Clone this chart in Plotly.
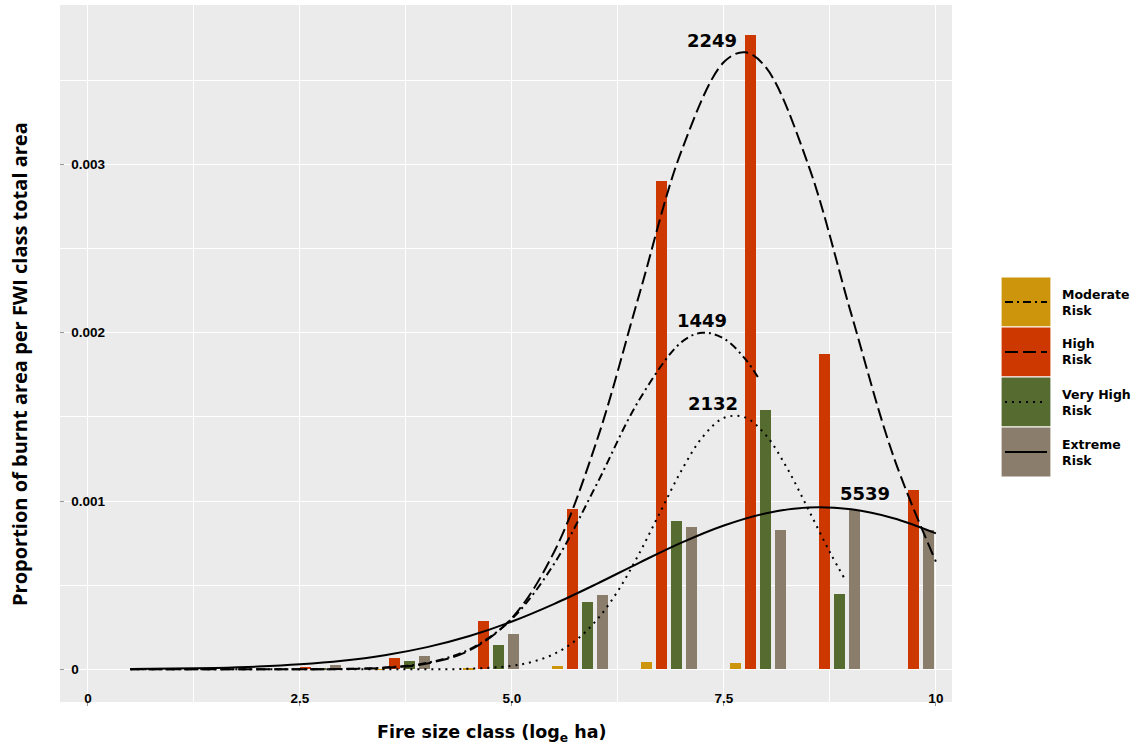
import plotly.graph_objects as go

# ---- data -------------------------------------------------------------
# fire size classes (log_e ha), one group of bars per class
size_class = [2.65, 3.70, 4.75, 5.80, 6.85, 7.90, 8.95, 10.00]

# proportion of burnt area per FWI class total area (None = class absent)
moderate = [0.0, 0.000002, 0.000005, 0.00002, 0.000045, 0.00004, None, None]
high = [0.000015, 0.000069, 0.000285, 0.000954, 0.00290, 0.00377, 0.001874, 0.001065]
very_high = [0.00001, 0.000051, 0.000143, 0.00040, 0.00088, 0.00154, 0.000446, None]
extreme = [0.000025, 0.000079, 0.000208, 0.00044, 0.000847, 0.000828, 0.000947, 0.000828]

risk_names = ["Moderate", "High", "Very High", "Extreme"]
risk_colors = ["#CD950C", "#CD3700", "#556B2F", "#8B7D6B"]
risk_dash = ["8px,4px,2px,4px", "13px,5px", "2px,5px", "solid"]

# fitted curves per risk class (x in log_e ha, y in proportion x 1e-3)
moderate_fit_x = [0.5, 1.0, 1.5, 2.0, 2.5, 3.0, 3.5, 4.0, 4.5, 5.0, 5.5, 6.0, 6.5, 7.0, 7.25, 7.5, 7.75, 7.92]
moderate_fit_y = [0.0, 0.0, 0.0, 0.0, 0.0005, 0.0025, 0.011, 0.039, 0.119, 0.30, 0.629, 1.10, 1.60, 1.944, 2.0, 1.965, 1.845, 1.72]

high_fit_x = [0.5, 1.0, 1.5, 2.0, 2.5, 3.0, 3.5, 4.0, 4.5, 5.0, 5.5, 6.0, 6.5, 7.0, 7.5, 7.75, 8.0, 8.5, 9.0, 9.5, 10.0]
high_fit_y = [0.0, 0.0, 0.0, 0.0, 0.0004, 0.002, 0.009, 0.035, 0.113, 0.305, 0.700, 1.357, 2.224, 3.081, 3.608, 3.666, 3.573, 2.99, 2.115, 1.265, 0.64]

very_high_fit_x = [0.5, 1.0, 1.5, 2.0, 2.5, 3.0, 3.5, 4.0, 4.5, 5.0, 5.25, 5.5, 5.75, 6.0, 6.25, 6.5, 6.75, 7.0, 7.25, 7.5, 7.75, 8.0, 8.25, 8.5, 8.75, 8.94]
very_high_fit_y = [0.0, 0.0, 0.0, 0.0, 0.0, 0.0, 0.0, 0.0004, 0.0036, 0.021, 0.046, 0.092, 0.171, 0.293, 0.466, 0.687, 0.936, 1.182, 1.381, 1.494, 1.497, 1.388, 1.191, 0.946, 0.696, 0.524]

extreme_fit_x = [0.5, 1.0, 1.5, 2.0, 2.5, 3.0, 3.5, 4.0, 4.5, 5.0, 5.5, 6.0, 6.5, 7.0, 7.5, 8.0, 8.5, 9.0, 9.5, 10.0]
extreme_fit_y = [0.0021, 0.0044, 0.0087, 0.0164, 0.0297, 0.051, 0.084, 0.132, 0.198, 0.284, 0.389, 0.508, 0.633, 0.753, 0.855, 0.928, 0.962, 0.951, 0.898, 0.808]

# number of fires per risk class, written at each curve's peak
fire_counts = ["1449", "2249", "2132", "5539"]
count_pos_x = [7.24, 7.36, 7.37, 9.16]
count_pos_y = [0.002075, 0.003739, 0.001582, 0.001047]

x_ticks = [0, 2.5, 5.0, 7.5, 10]
x_tick_text = ["0", "2.5", "5.0", "7.5", "10"]
y_ticks = [0, 0.001, 0.002, 0.003]
# labels are padded to a common width so they line up on the left
y_tick_text = ["0\u2008\u2007\u2007\u2007", "0.001", "0.002", "0.003"]

# ---- layout geometry --------------------------------------------------
W, H = 1137, 744
L, R, T, B = 60, 952, 5, 702


def px(xp):
    return (xp - L) / (R - L)


def py(yp):
    return (B - yp) / (B - T)


# ---- bars: dodge the classes present in each size class ----------------
series = [moderate, high, very_high, extreme]
n_slots = len(series)
dodge_width = 0.708
bar_width = 0.126

fig = go.Figure()
slot_x = [[] for _ in series]
slot_y = [[] for _ in series]
for g, centre in enumerate(size_class):
    rank = 0
    for s, vals in enumerate(series):
        v = vals[g]
        if v is None:
            continue
        rank += 1
        slot_x[s].append(centre + dodge_width * ((rank - 0.5) / n_slots - 0.5))
        slot_y[s].append(v)

for s in range(n_slots):
    fig.add_trace(go.Bar(
        x=slot_x[s], y=slot_y[s], width=bar_width,
        marker=dict(color=risk_colors[s], line=dict(width=0)),
        name=risk_names[s], showlegend=False,
    ))

# ---- fitted curves ----------------------------------------------------
fits = [
    (moderate_fit_x, moderate_fit_y),
    (high_fit_x, high_fit_y),
    (very_high_fit_x, very_high_fit_y),
    (extreme_fit_x, extreme_fit_y),
]
for s, (fx, fy) in enumerate(fits):
    fig.add_trace(go.Scatter(
        x=fx, y=[v / 1000 for v in fy], mode="lines",
        line=dict(color="black", width=2, dash=risk_dash[s], shape="spline", smoothing=1.0),
        showlegend=False, hoverinfo="skip",
    ))

# ---- annotations ------------------------------------------------------
annotations = []
for s in range(n_slots):
    annotations.append(dict(
        x=count_pos_x[s], y=count_pos_y[s], xref="x", yref="y",
        text=fire_counts[s], showarrow=False,
        font=dict(family="DejaVu Sans", size=18, color="black", weight="bold"),
    ))

annotations.append(dict(
    x=px(491), y=py(733), xref="paper", yref="paper",
    xanchor="center", yanchor="middle",
    text="Fire size class (log<sub>e</sub> ha)", showarrow=False,
    font=dict(family="DejaVu Sans", size=17.5, color="black", weight="bold"),
))
annotations.append(dict(
    x=px(19), y=py(364), xref="paper", yref="paper", textangle=-90,
    xanchor="center", yanchor="middle",
    text="Proportion of burnt area per FWI class total area", showarrow=False,
    font=dict(family="Open Sans", size=20, color="black", weight="bold"),
))

# ---- legend (filled keys with line samples) ----------------------------
shapes = []
key_top = [277, 327, 377, 427]
key_h = 50
for s in range(n_slots):
    y0, y1 = key_top[s], key_top[s] + key_h
    shapes.append(dict(
        type="rect", xref="paper", yref="paper",
        x0=px(1001), x1=px(1051), y0=py(y1), y1=py(y0),
        fillcolor=risk_colors[s], line=dict(color="white", width=1.2),
    ))
    yc = (y0 + y1) / 2
    shapes.append(dict(
        type="line", xref="paper", yref="paper",
        x0=px(1005), x1=px(1047), y0=py(yc), y1=py(yc),
        line=dict(color="black", width=2, dash=risk_dash[s]),
    ))
    annotations.append(dict(
        x=px(1060), y=py(yc), xref="paper", yref="paper",
        xanchor="left", yanchor="middle", align="left",
        text=risk_names[s] + "<br>Risk", showarrow=False,
        font=dict(family="DejaVu Sans", size=12.5, color="black", weight="bold"),
    ))

tick_font = dict(family="Liberation Sans", size=13.5, color="black", weight="bold")

fig.update_layout(
    width=W, height=H,
    margin=dict(l=L, r=W - R, t=T, b=H - B, pad=0),
    paper_bgcolor="white", plot_bgcolor="#EBEBEB",
    barmode="overlay", bargap=0,
    showlegend=False,
    annotations=annotations, shapes=shapes,
    xaxis=dict(
        range=[-0.33, 10.19], tickvals=x_ticks, ticktext=x_tick_text,
        ticklabelposition="outside", ticklabelstandoff=-19,
        ticks="outside", ticklen=3, tickcolor="#999999", tickwidth=1,
        tickfont=tick_font,
        showgrid=True, gridcolor="white", gridwidth=1.2,
        minor=dict(tickvals=[1.25, 3.75, 6.25, 8.75], showgrid=True, gridcolor="white", gridwidth=0.6),
        zeroline=False, showline=False,
    ),
    yaxis=dict(
        range=[-0.000194, 0.003947], tickvals=y_ticks, ticktext=y_tick_text,
        ticklabelposition="outside", ticklabelstandoff=-46,
        ticks="inside", ticklen=4, tickcolor="#999999", tickwidth=1,
        tickfont=tick_font,
        showgrid=True, gridcolor="white", gridwidth=1.2,
        minor=dict(tickvals=[0.0005, 0.0015, 0.0025, 0.0035], showgrid=True, gridcolor="white", gridwidth=0.6),
        zeroline=False, showline=False,
    ),
)

fig.write_html("out.html")
